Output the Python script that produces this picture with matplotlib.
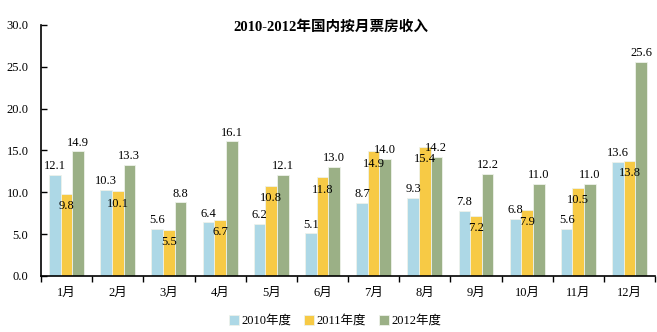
import matplotlib
matplotlib.use("Agg")
import matplotlib.pyplot as plt
import numpy as np

months = ["1月", "2月", "3月", "4月", "5月", "6月", "7月", "8月", "9月", "10月", "11月", "12月"]
series_names = ["2010年度", "2011年度", "2012年度"]
v2010 = [12.1, 10.3, 5.6, 6.4, 6.2, 5.1, 8.7, 9.3, 7.8, 6.8, 5.6, 13.6]
v2011 = [9.8, 10.1, 5.5, 6.7, 10.8, 11.8, 14.9, 15.4, 7.2, 7.9, 10.5, 13.8]
v2012 = [14.9, 13.3, 8.8, 16.1, 12.1, 13.0, 14.0, 14.2, 12.2, 11.0, 11.0, 25.6]
title = "2010-2012年国内按月票房收入"

colors = ["#ADD8E6", "#F7CA45", "#9BB086"]
FAM = ["Liberation Serif", "Noto Sans CJK SC", "DejaVu Sans"]
plt.rcParams['font.family'] = FAM

fig = plt.figure(figsize=(6.57, 3.32), dpi=100)
ax = fig.add_axes([0.0624, 0.1687, 0.9346, 0.756])

x = np.arange(len(months))
w = 0.227
all_vals = [v2010, v2011, v2012]
bars = []
for i, vals in enumerate(all_vals):
    b = ax.bar(x + (i - 1) * w, vals, width=w, color=colors[i],
               edgecolor="#EEF2EA", linewidth=0.6, label=series_names[i], zorder=2)
    bars.append(b)

for i, vals in enumerate(all_vals):
    for xi, v in zip(x, vals):
        xp = xi + (i - 1) * w
        if i == 1:
            ax.annotate(f"{v:.1f}", (xp, v), xytext=(0, -4.5), textcoords="offset points",
                        ha="center", va="top", fontsize=9, family=FAM, zorder=3)
        else:
            ax.annotate(f"{v:.1f}", (xp, v), xytext=(0, 2), textcoords="offset points",
                        ha="center", va="bottom", fontsize=9, family=FAM, zorder=3)

ax.set_xlim(-0.5, len(months) - 0.5)
ax.set_ylim(0, 30)
ax.set_yticks(np.arange(0, 30.1, 5))
ax.set_yticklabels([f"{t:.1f}" for t in np.arange(0, 30.1, 5)], fontsize=9)
ax.tick_params(axis="y", direction="in", length=4, width=1, pad=9)

ax.set_xticks(np.arange(-0.5, len(months), 1.0))
ax.set_xticklabels([])
ax.set_xticks(x, minor=True)
ax.set_xticklabels(months, minor=True, fontsize=9)
ax.tick_params(axis="x", which="major", direction="out", length=4, width=1)
ax.tick_params(axis="x", which="minor", length=0, pad=8)

for s in ["top", "right"]:
    ax.spines[s].set_visible(False)
for s in ["left", "bottom"]:
    ax.spines[s].set_linewidth(1.2)
    ax.spines[s].set_color("black")

fig.text(0.503, 0.92, title, ha="center", va="center", fontsize=10.5,
         fontweight="bold", family=FAM)

fig.legend(handles=bars, labels=series_names, loc="center", bbox_to_anchor=(0.51, 0.033),
           ncol=3, frameon=False, fontsize=9, handlelength=0.8, handleheight=0.8,
           handletextpad=0.2, columnspacing=1.0)

fig.savefig("out.png", dpi=100)
